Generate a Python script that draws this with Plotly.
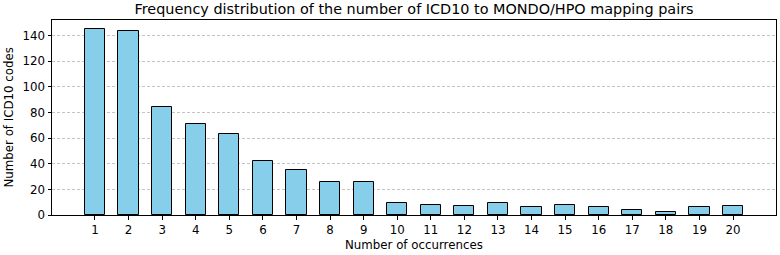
import plotly.graph_objects as go

occurrences = list(range(1, 21))
counts = [145, 144, 84, 71, 63, 42, 35, 26, 26, 9, 8, 7, 9, 6, 8, 6, 4, 2, 6, 7]
y_ticks = [0, 20, 40, 60, 80, 100, 120, 140]

FONT = "DejaVu Sans"
FS = 11.8

fig = go.Figure()
fig.add_trace(go.Bar(
    x=occurrences, y=counts, width=0.6,
    marker=dict(color="#87CEEB", line=dict(color="black", width=1)),
))

fig.update_layout(
    width=780, height=255,
    margin=dict(l=52, r=4, t=20, b=40),
    plot_bgcolor="white", paper_bgcolor="white",
    showlegend=False,
    font=dict(family=FONT, size=FS, color="black"),
    title=dict(text="Frequency distribution of the number of ICD10 to MONDO/HPO mapping pairs",
               x=0.5308, xanchor="center", y=1 - 8.5 / 255, yanchor="middle",
               yref="container", font=dict(family=FONT, size=14.4, color="black")),
    bargap=0,
)
fig.update_xaxes(
    range=[-0.28, 21.28], tickvals=occurrences, ticktext=[str(v) for v in occurrences],
    showgrid=False, zeroline=False,
    showline=True, linecolor="black", linewidth=1, mirror=True,
    ticks="outside", ticklen=3.5, tickwidth=1, tickcolor="black",
    tickfont=dict(family=FONT, size=FS, color="black"),
)
fig.update_yaxes(
    range=[0, 152.25], tickvals=y_ticks,
    showgrid=True, gridcolor="#c4c4c4", griddash="3px,2px", gridwidth=1,
    zeroline=False,
    showline=True, linecolor="black", linewidth=1, mirror=True,
    ticks="outside", ticklen=3.5, tickwidth=1, tickcolor="black",
    tickfont=dict(family=FONT, size=FS, color="black"),
)
fig.add_annotation(text="Number of occurrences", xref="paper", yref="paper",
                   x=0.5, y=-(246 - 215.5) / 195.5, xanchor="center", yanchor="middle",
                   showarrow=False, font=dict(family=FONT, size=FS, color="black"))
fig.add_annotation(text="Number of ICD10 codes", xref="paper", yref="paper",
                   x=-(52 - 8) / 724, y=0.5, xanchor="center", yanchor="middle",
                   textangle=-90, showarrow=False, font=dict(family=FONT, size=FS, color="black"))

fig.write_html("out.html")
